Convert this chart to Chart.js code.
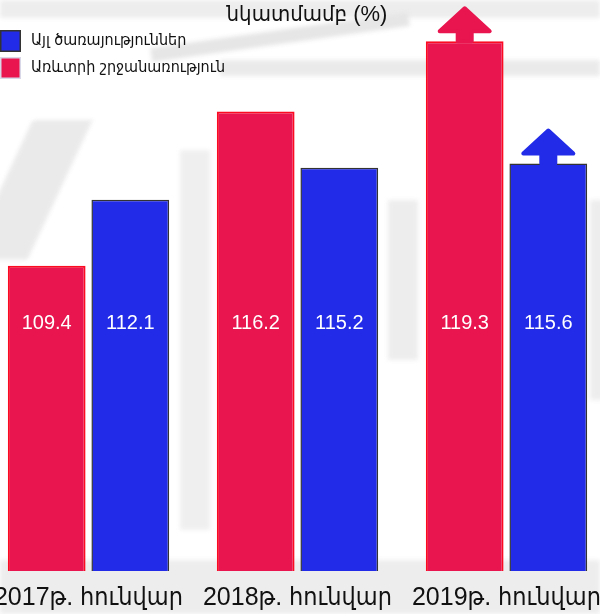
<!DOCTYPE html>
<html>
<head>
<meta charset="utf-8">
<script src="https://cdn.jsdelivr.net/npm/chart.js@4"></script>
<style>
  html, body { margin: 0; padding: 0; background: #fff; }
  #wrap { position: relative; width: 600px; height: 614px; overflow: hidden; background: #fff; }
  #chart { position: absolute; left: -16px; top: 0; }
  /* faint sketch in the background */
  .bg { position: absolute; background: #e6e6e6; filter: blur(2px); }
</style>
</head>
<body>
<div id="wrap">
  <div class="bg" style="left:0;top:0;width:600px;height:18px;opacity:.7"></div>
  <div class="bg" style="left:150px;top:30px;width:260px;height:14px;transform:rotate(-8deg)"></div>
  <div class="bg" style="left:220px;top:60px;width:380px;height:16px;opacity:.8"></div>
  <div class="bg" style="left:0;top:120px;width:60px;height:140px;transform:skewX(-25deg);opacity:.8"></div>
  <div class="bg" style="left:180px;top:150px;width:30px;height:380px;opacity:.6"></div>
  <div class="bg" style="left:388px;top:200px;width:30px;height:160px;opacity:.7"></div>
  <div class="bg" style="left:590px;top:200px;width:20px;height:200px;opacity:.7"></div>
  <div class="bg" style="left:0;top:560px;width:600px;height:54px;opacity:.7"></div>
  <canvas id="chart" width="627" height="614"></canvas>
</div>
<script>
// chart data
const periods = ['2017թ. հունվար', '2018թ. հունվար', '2019թ. հունվար'];
const tradeValues = [109.4, 116.2, 119.3];     // Առևտրի շրջանառություն
const servicesValues = [112.1, 115.2, 115.6];  // Այլ ծառայություններ
const arrowOn = [false, false, true];
const titleText = 'նկատմամբ (%)';

const FONT = '"Liberation Sans", "DejaVu Sans Condensed", Arial, sans-serif';
const RED = '#e8154f', RED_BORDER = '#fb0a22';
const BLUE = '#222ce8', BLUE_BORDER = '#333333';

// white value labels inside bars + arrows on top
const barDecor = {
    id: 'barDecor',
    afterDatasetsDraw(chart) {
        const ctx = chart.ctx;
        ctx.save();
        chart.data.datasets.forEach((ds, di) => {
            const meta = chart.getDatasetMeta(di);
            meta.data.forEach((bar, i) => {
                if (arrowOn[i]) {
                    const cx = bar.x, top = bar.y;
                    ctx.fillStyle = ds.backgroundColor;
                    ctx.strokeStyle = ds.backgroundColor;
                    ctx.lineWidth = 4;
                    ctx.lineJoin = 'round';
                    ctx.beginPath();
                    ctx.moveTo(cx, top - 33);
                    ctx.lineTo(cx + 25, top - 10);
                    ctx.lineTo(cx + 7, top - 10);
                    ctx.lineTo(cx + 7, top);
                    ctx.lineTo(cx - 7, top);
                    ctx.lineTo(cx - 7, top - 10);
                    ctx.lineTo(cx - 25, top - 10);
                    ctx.closePath();
                    ctx.fill();
                    ctx.stroke();
                }
                ctx.fillStyle = '#ffffff';
                ctx.font = '20px ' + FONT;
                ctx.textAlign = 'center';
                ctx.textBaseline = 'middle';
                ctx.fillText(ds.data[i].toFixed(1), bar.x, 323);
            });
        });
        ctx.restore();
    }
};

// title line + legend in the top-left corner
const overlay = {
    id: 'overlay',
    afterDraw(chart) {
        const ctx = chart.ctx;
        ctx.save();
        ctx.fillStyle = '#111';
        ctx.font = '22px ' + FONT;
        ctx.textAlign = 'center';
        ctx.textBaseline = 'alphabetic';
        ctx.fillText(titleText, 323, 21);

        const items = chart.data.datasets.slice().reverse();
        ctx.font = '16px ' + FONT;
        ctx.textAlign = 'left';
        ctx.textBaseline = 'middle';
        items.forEach((ds, k) => {
            const y = 30 + k * 27;
            ctx.fillStyle = ds.backgroundColor;
            ctx.fillRect(16, y, 21, 22);
            ctx.lineWidth = 1.5;
            ctx.strokeStyle = k === 0 ? '#333' : '#d8d8e8';
            ctx.strokeRect(16.75, y + 0.75, 19.5, 20.5);
            ctx.fillStyle = '#111';
            ctx.fillText(ds.label, 47, y + 11);
        });
        ctx.restore();
    }
};

new Chart(document.getElementById('chart'), {
    type: 'bar',
    data: {
        labels: periods,
        datasets: [
            {
                label: 'Առևտրի շրջանառություն',
                data: tradeValues,
                backgroundColor: RED,
                borderColor: RED_BORDER,
                borderWidth: 2,
                yAxisID: 'yR'
            },
            {
                label: 'Այլ ծառայություններ',
                data: servicesValues,
                backgroundColor: BLUE,
                borderColor: BLUE_BORDER,
                borderWidth: 1.5,
                yAxisID: 'yB'
            }
        ]
    },
    options: {
        responsive: false,
        animation: false,
        layout: { padding: 0 },
        categoryPercentage: 0.8,
        barPercentage: 0.93,
        plugins: {
            legend: { display: false },
            tooltip: { enabled: false }
        },
        scales: {
            x: {
                grid: { display: false, drawTicks: false },
                border: { display: false },
                ticks: {
                    padding: 12,
                    maxRotation: 0,
                    minRotation: 0,
                    autoSkip: false,
                    color: '#111',
                    font: { family: FONT, size: 25 }
                },
                afterFit(scale) {
                    scale.height = 43;
                    scale.paddingLeft = 0;
                    scale.paddingRight = 0;
                }
            },
            yR: { display: false, min: 95.93, max: 121.12 },
            yB: { display: false, min: 76.16, max: 131.43 }
        }
    },
    plugins: [barDecor, overlay]
});
</script>
</body>
</html>
